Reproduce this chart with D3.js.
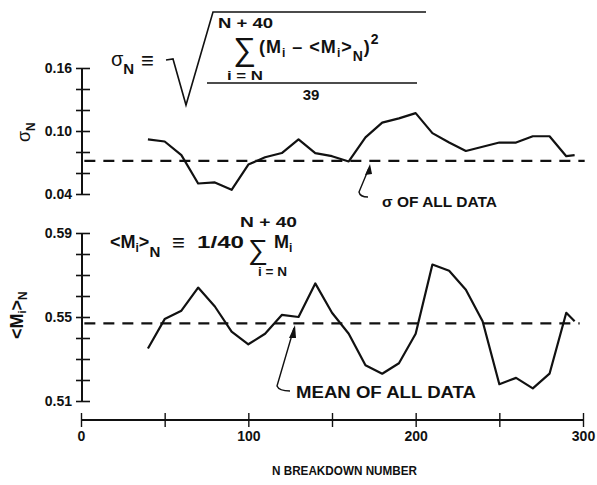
<!DOCTYPE html>
<html><head><meta charset="utf-8">
<script src="https://cdn.jsdelivr.net/npm/d3@7"></script>
<style>
body{margin:0;background:#fff;}
svg{display:block;}
text{font-family:"Liberation Sans",Arial,sans-serif;fill:#111;}
.b{font-weight:bold;}
</style></head>
<body><svg id="c" width="597" height="485"></svg>
<script>
// ---- data ----
const sigmaN     = [40,50,60,70,80,90,100,110,120,130,140,150,160,170,180,190,200,210,220,230,240,250,260,270,280,290,295];
const sigmaVals  = [0.092,0.090,0.077,0.050,0.051,0.044,0.068,0.075,0.079,0.092,0.079,0.076,0.071,0.094,0.108,0.112,0.117,0.098,0.089,0.081,0.085,0.089,0.089,0.095,0.095,0.076,0.077];
const meanN      = [40,50,60,70,80,90,100,110,120,130,140,150,160,170,180,190,200,210,220,230,240,250,260,270,280,290,295];
const meanVals   = [0.535,0.549,0.553,0.564,0.555,0.543,0.537,0.542,0.551,0.550,0.566,0.552,0.542,0.527,0.523,0.528,0.542,0.575,0.572,0.563,0.548,0.518,0.521,0.516,0.523,0.552,0.548];
const sigmaAll   = 0.0715;
const meanAll    = 0.547;
const xTicks     = [0,50,100,150,200,250,300];
const xTickLabels= [0,100,200,300];
const sigTicks   = [0.04,0.06,0.08,0.10,0.12,0.14,0.16];
const sigLabels  = [0.04,0.10,0.16];
const meanTicks  = [0.51,0.52,0.53,0.54,0.55,0.56,0.57,0.58,0.59];
const meanLabels = [0.51,0.55,0.59];

const svg = d3.select("#c");
const x = d3.scaleLinear().domain([0,300]).range([81,583]);
const yT = d3.scaleLinear().domain([0.04,0.16]).range([194,68]);
const yB = d3.scaleLinear().domain([0.51,0.59]).range([401,233]);
const AX = 82;

function yAxis(scale, ticks, labels){
  const g = svg.append("g").attr("transform",`translate(${AX},0)`)
    .call(d3.axisLeft(scale).tickValues(ticks).tickSize(6).tickPadding(10)
      .tickFormat(d => labels.some(l=>Math.abs(l-d)<1e-9) ? d3.format(".2f")(d) : ""));
  g.select(".domain").attr("d",`M0,${scale.range()[0]}V${scale.range()[1]}`).attr("stroke","#111").attr("stroke-width",2);
  g.selectAll(".tick line").attr("x1",-6).attr("x2",8).attr("stroke","#111").attr("stroke-width",1.6);
  g.selectAll(".tick text").style("font-size","14px").attr("x",-10).attr("fill","#111")
    .style("font-family","'Liberation Sans',Arial,sans-serif").style("font-weight","bold");
}
yAxis(yT, sigTicks, sigLabels);
yAxis(yB, meanTicks, meanLabels);

// x axis
const gx = svg.append("g").attr("transform","translate(0,420)")
  .call(d3.axisBottom(x).tickValues(xTicks).tickSize(7).tickPadding(8)
    .tickFormat(d => xTickLabels.includes(d) ? d : ""));
gx.select(".domain").attr("d","M81,0H583").attr("stroke","#111").attr("stroke-width",2);
gx.selectAll(".tick line").attr("y1",-7).attr("y2",7).attr("stroke","#111").attr("stroke-width",1.4);
gx.selectAll(".tick text").style("font-size","14px").style("font-weight","bold")
  .style("font-family","'Liberation Sans',Arial,sans-serif").attr("fill","#111").attr("y",11);

svg.append("text").attr("class","b").attr("x",272).attr("y",475).style("font-size","13px")
  .attr("textLength",145).attr("lengthAdjust","spacingAndGlyphs").text("N  BREAKDOWN NUMBER");

// dashed reference lines
svg.append("line").attr("x1",x(2)).attr("x2",x(301)).attr("y1",yT(sigmaAll)).attr("y2",yT(sigmaAll))
  .attr("stroke","#111").attr("stroke-width",2.2).attr("stroke-dasharray","11,8");
svg.append("line").attr("x1",x(2)).attr("x2",x(298)).attr("y1",yB(meanAll)).attr("y2",yB(meanAll))
  .attr("stroke","#111").attr("stroke-width",2.2).attr("stroke-dasharray","11,8");

// curves
const lineT = d3.line().x((d,i)=>x(sigmaN[i])).y(d=>yT(d));
svg.append("path").attr("d",lineT(sigmaVals)).attr("fill","none").attr("stroke","#111").attr("stroke-width",2.2).attr("stroke-linejoin","round");
const lineB = d3.line().x((d,i)=>x(meanN[i])).y(d=>yB(d));
svg.append("path").attr("d",lineB(meanVals)).attr("fill","none").attr("stroke","#111").attr("stroke-width",2.2).attr("stroke-linejoin","round");

// y titles
const t1 = svg.append("text").attr("transform","translate(30,142) rotate(-90)").style("font-size","18px");
t1.append("tspan").text("σ");
t1.append("tspan").attr("dy",5).style("font-size","12px").attr("class","b").text("N");

const t2 = svg.append("text").attr("transform","translate(23,339) rotate(-90)").style("font-size","18px").attr("class","b");
t2.append("tspan").text("<M");
t2.append("tspan").attr("dy",3).style("font-size","11px").text("i");
t2.append("tspan").attr("dy",-3).text(">");
t2.append("tspan").attr("dy",4).style("font-size","12px").text("N");

// upper formula
const f1 = svg.append("text").attr("x",111).attr("y",66).style("font-size","20px");
f1.append("tspan").text("σ");
f1.append("tspan").attr("dy",8).style("font-size","15px").attr("class","b").text("N");
svg.append("text").attr("x",141).attr("y",68).style("font-size","22px").attr("class","b").text("≡");
svg.append("path").attr("d","M166,60 L173,59 L186,105 L213,12 L426,12").attr("fill","none").attr("stroke","#111").attr("stroke-width",1.6);
svg.append("text").attr("x",218).attr("y",28).style("font-size","15px").attr("class","b").attr("textLength",55).attr("lengthAdjust","spacingAndGlyphs").text("N + 40");
svg.append("text").attr("x",233).attr("y",60).style("font-size","32px").text("∑");
const f2 = svg.append("text").attr("x",259).attr("y",53).style("font-size","18px").attr("class","b").style("letter-spacing","1px");
f2.append("tspan").text("(M");
f2.append("tspan").attr("dy",4).style("font-size","12px").text("i");
f2.append("tspan").attr("dy",-4).text(" – <M");
f2.append("tspan").attr("dy",4).style("font-size","12px").text("i");
f2.append("tspan").attr("dy",-4).text(">");
f2.append("tspan").attr("dy",8).style("font-size","14px").text("N");
f2.append("tspan").attr("dy",-8).text(")");
f2.append("tspan").attr("dy",-9).style("font-size","14px").text("2");
svg.append("text").attr("x",227).attr("y",80).style("font-size","12px").attr("class","b").attr("textLength",36).attr("lengthAdjust","spacingAndGlyphs").text("i = N");
svg.append("line").attr("x1",207).attr("x2",417).attr("y1",83).attr("y2",83).attr("stroke","#111").attr("stroke-width",1.6);
svg.append("text").attr("x",311).attr("y",100).attr("text-anchor","middle").style("font-size","15px").attr("class","b").text("39");

// lower formula
const g1 = svg.append("text").attr("x",110).attr("y",248).style("font-size","18px").attr("class","b");
g1.append("tspan").text("<M");
g1.append("tspan").attr("dy",4).style("font-size","12px").text("i");
g1.append("tspan").attr("dy",-4).text(">");
g1.append("tspan").attr("dy",9).style("font-size","15px").text("N");
svg.append("text").attr("x",172).attr("y",250).style("font-size","22px").attr("class","b").text("≡");
svg.append("text").attr("x",197).attr("y",248).style("font-size","17px").attr("textLength",47).attr("lengthAdjust","spacingAndGlyphs").style("font-weight","600").text("1/40");
svg.append("text").attr("x",248).attr("y",259).style("font-size","28px").text("∑");
const g2 = svg.append("text").attr("x",274).attr("y",248).style("font-size","18px").attr("class","b");
g2.append("tspan").text("M");
g2.append("tspan").attr("dy",4).style("font-size","12px").text("i");
svg.append("text").attr("x",240).attr("y",227).style("font-size","15px").attr("class","b").attr("textLength",57).attr("lengthAdjust","spacingAndGlyphs").text("N + 40");
svg.append("text").attr("x",258).attr("y",276).style("font-size","12px").attr("class","b").attr("textLength",29).attr("lengthAdjust","spacingAndGlyphs").text("i = N");

// annotations
svg.append("path").attr("d","M369,168 L359,192 Q360,197 368,197").attr("fill","none").attr("stroke","#111").attr("stroke-width",1.4);
svg.append("path").attr("d","M370,164 L365,175 L372,174 Z").attr("fill","#111");
svg.append("text").attr("x",382).attr("y",207).style("font-size","15px").attr("class","b")
  .attr("textLength",115).attr("lengthAdjust","spacingAndGlyphs").text("σ OF ALL DATA");

svg.append("path").attr("d","M294,328 L277,386 Q279,391 290,391").attr("fill","none").attr("stroke","#111").attr("stroke-width",1.4);
svg.append("path").attr("d","M295,325 L289,338 L296,338 Z").attr("fill","#111");
svg.append("text").attr("x",296).attr("y",398).style("font-size","16px").attr("class","b")
  .attr("textLength",180).attr("lengthAdjust","spacingAndGlyphs").text("MEAN OF ALL DATA");
</script></body></html>
